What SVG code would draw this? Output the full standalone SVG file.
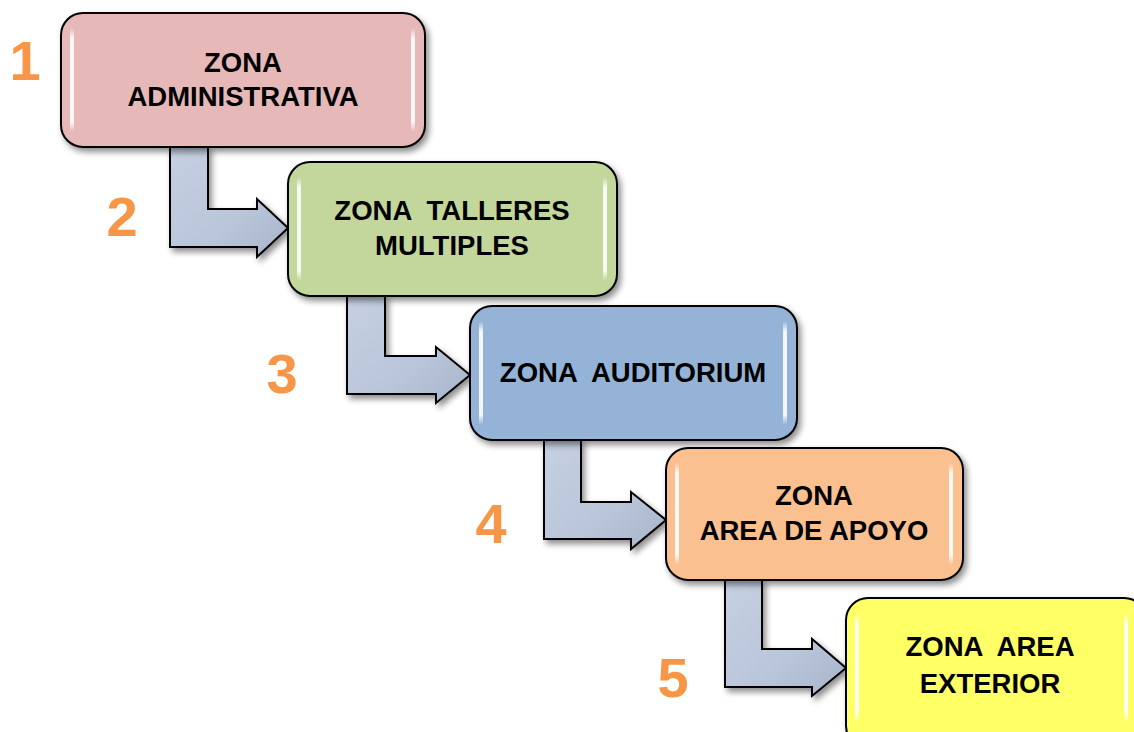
<svg xmlns="http://www.w3.org/2000/svg" width="1134" height="732" viewBox="0 0 1134 732">
<defs>
<filter id="sh" x="-10%" y="-10%" width="130%" height="130%">
<feGaussianBlur in="SourceAlpha" stdDeviation="3"/>
<feOffset dx="3" dy="4" result="b"/>
<feComponentTransfer><feFuncA type="linear" slope="0.45"/></feComponentTransfer>
<feMerge><feMergeNode/><feMergeNode in="SourceGraphic"/></feMerge>
</filter>
<linearGradient id="ag" x1="0" y1="0" x2="1" y2="1">
<stop offset="0" stop-color="#c6d0e2"/>
<stop offset="0.6" stop-color="#b9c5d9"/>
<stop offset="1" stop-color="#a7b3c8"/>
</linearGradient>
<linearGradient id="hl" x1="0" y1="0" x2="0" y2="1">
<stop offset="0" stop-color="#fff" stop-opacity="0"/>
<stop offset="0.1" stop-color="#fff" stop-opacity="0.9"/>
<stop offset="0.9" stop-color="#fff" stop-opacity="0.9"/>
<stop offset="1" stop-color="#fff" stop-opacity="0"/>
</linearGradient>
</defs>
<style>
.box{stroke:#000;stroke-width:2;filter:url(#sh)}
.hl{fill:url(#hl)}
.t{font-family:"Liberation Sans",Arial,sans-serif;font-weight:bold;font-size:27.5px;fill:#000;text-anchor:middle}
.n{font-family:"Liberation Sans",Arial,sans-serif;font-weight:bold;font-size:56px;fill:#F79646;text-anchor:middle}
.arr{fill:url(#ag);stroke:#000;stroke-width:2;stroke-linejoin:miter;filter:url(#sh)}
</style>
<rect width="1134" height="732" fill="#fff"/>
<g id="connectors">
<path class="arr" d="M170,147 L208,147 L208,209 L257,209 L257,199 L288,228 L257,257 L257,247 L170,247 Z"/>
<path class="arr" d="M347,296 L385,296 L385,356 L436,356 L436,347 L470,375 L436,403 L436,394 L347,394 Z"/>
<path class="arr" d="M544,440 L581,440 L581,502 L631,502 L631,492 L666,520 L631,549 L631,539 L544,539 Z"/>
<path class="arr" d="M725,580 L762,580 L762,649 L812,649 L812,639 L846,668 L812,696 L812,687 L725,687 Z"/>
</g>
<g id="node1">
<rect class="box" x="61" y="13" width="364" height="134" rx="22" fill="#E6B9B8"/>
<rect class="hl" x="70" y="28" width="4" height="104" rx="2"/>
<rect class="hl" x="411" y="28" width="4" height="104" rx="2"/>
<text class="t" x="243" y="72">ZONA</text>
<text class="t" x="243" y="106">ADMINISTRATIVA</text>
</g>
<g id="node2">
<rect class="box" x="288" y="162" width="329" height="134" rx="22" fill="#C3D69B"/>
<rect class="hl" x="297" y="177" width="4" height="104" rx="2"/>
<rect class="hl" x="603" y="177" width="4" height="104" rx="2"/>
<text class="t" x="452" y="220" xml:space="preserve">ZONA  TALLERES</text>
<text class="t" x="452" y="255">MULTIPLES</text>
</g>
<g id="node3">
<rect class="box" x="470" y="306" width="327" height="134" rx="22" fill="#95B3D7"/>
<rect class="hl" x="479" y="321" width="4" height="104" rx="2"/>
<rect class="hl" x="783" y="321" width="4" height="104" rx="2"/>
<text class="t" x="633" y="382" xml:space="preserve">ZONA  AUDITORIUM</text>
</g>
<g id="node4">
<rect class="box" x="666" y="448" width="297" height="132" rx="22" fill="#FAC090"/>
<rect class="hl" x="675" y="463" width="4" height="102" rx="2"/>
<rect class="hl" x="949" y="463" width="4" height="102" rx="2"/>
<text class="t" x="814" y="505">ZONA</text>
<text class="t" x="814" y="540">AREA DE APOYO</text>
</g>
<g id="node5">
<rect class="box" x="846" y="598" width="300" height="150" rx="22" fill="#FFFF66"/>
<rect class="hl" x="855" y="613" width="4" height="110" rx="2"/>
<rect class="hl" x="1124" y="613" width="4" height="110" rx="2"/>
<text class="t" x="990" y="656" xml:space="preserve">ZONA  AREA</text>
<text class="t" x="990" y="693">EXTERIOR</text>
</g>
<g id="numbers">
<text class="n" x="25" y="80">1</text>
<text class="n" x="122" y="236">2</text>
<text class="n" x="282" y="393">3</text>
<text class="n" x="491" y="543">4</text>
<text class="n" x="673" y="697">5</text>
</g>
</svg>
